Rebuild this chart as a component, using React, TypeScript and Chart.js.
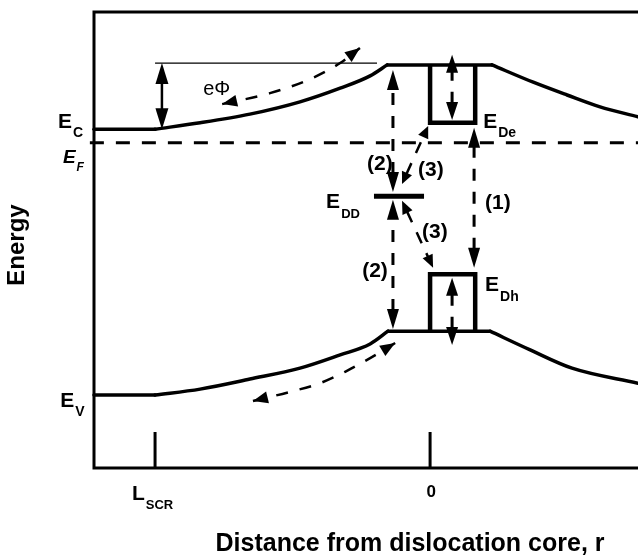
import { useEffect, useRef } from "react";
import { Chart, registerables } from "chart.js";

Chart.register(...registerables);

// Horizontal axis: distance from the dislocation core (core at 0, L_SCR at -100)
// Vertical axis: electron energy (arbitrary units)
const R_MIN = -122.2;
const R_MAX = 75.6;
const E_MIN = 0;
const E_MAX = 10;

// Conduction band edge, bent upwards around the charged core
const cbR = [-122.2, -100, -83.6, -65.5, -47.3, -32.7, -21.8, -15.6, 22.5, 37.5, 49.8, 61.8, 75.6];
const cbE = [7.43, 7.43, 7.57, 7.76, 8.03, 8.33, 8.6, 8.84, 8.84, 8.46, 8.18, 7.92, 7.7];

// Valence band edge, bent in parallel
const vbR = [-122.2, -100, -83.6, -65.5, -47.3, -32.7, -21.8, -15.3, 21.8, 36.4, 51.6, 75.6];
const vbE = [1.6, 1.6, 1.73, 1.95, 2.19, 2.48, 2.72, 3.0, 3.0, 2.59, 2.19, 1.86];

// Indices where the band edges have a kink (edge of the space-charge region, edges of the flat core region)
const cbKinks = [1, 7, 8];
const vbKinks = [1, 7, 8];

// Fermi level
const fermiE = 7.13;

// Barrier height eΦ: reference level and its extent
const barrierTopE = 8.88;
const barrierR = [-100, -19.3];

// Deep defect level E_DD
const ddR = [-20.4, -2.2];
const ddE = 5.96;

// 1D dislocation bands E_De / E_Dh (well width and depths)
const bandWellR = [0, 16.4];
const deE = [8.84, 7.57];
const dhE = [3.0, 4.25];

// Carrier drift paths along the bent bands
const cbFlowR = [-75.6, -58.2, -43.6, -32.7, -25.5];
const cbFlowE = [7.98, 8.22, 8.53, 8.88, 9.21];
const vbFlowR = [-64.4, -50.9, -40.0, -30.9, -21.8, -12.7];
const vbFlowE = [1.47, 1.67, 1.86, 2.11, 2.41, 2.74];

// Transitions: [r start, E start, r end, E end]
const barrierArrow = [-97.5, 7.43, -97.5, 8.88];
const deArrow = [8.0, 7.63, 8.0, 9.06];
const dhArrow = [8.0, 2.7, 8.0, 4.17];
const transition1 = [16.0, 4.39, 16.0, 7.46];
const transition2Up = [-13.5, 6.05, -13.5, 8.73];
const transition2Down = [-13.5, 3.05, -13.5, 5.88];
const transition3Up = [-10.2, 6.23, -0.7, 7.5];
const transition3Down = [-10.2, 5.86, 1.1, 4.39];

// Axis ticks
const tickR = [-100, 0];
const tickTopE = 0.79;
const tickLabels = ["L", "0"];

const FONT = "'Liberation Sans', Arial, Helvetica, sans-serif";

type Label = {
  text: string;
  sub?: string;
  r: number;
  e: number;
  size: number;
  subSize?: number;
  italic?: boolean;
  bold?: boolean;
  align?: CanvasTextAlign;
};

const labels: Label[] = [
  { text: "E", sub: "C", r: -135.3, e: 7.46, size: 21, subSize: 14, bold: true },
  { text: "E", sub: "F", r: -133.5, e: 6.69, size: 19, subSize: 12, bold: true, italic: true },
  { text: "E", sub: "V", r: -134.5, e: 1.34, size: 21, subSize: 14, bold: true },
  { text: "E", sub: "DD", r: -37.8, e: 5.7, size: 21, subSize: 13, bold: true },
  { text: "E", sub: "De", r: 19.3, e: 7.46, size: 21, subSize: 14, bold: true },
  { text: "E", sub: "Dh", r: 20.0, e: 3.88, size: 21, subSize: 14, bold: true },
  { text: tickLabels[0], sub: "SCR", r: -108.4, e: -0.7, size: 21, subSize: 13, bold: true },
  { text: tickLabels[1], r: 0.4, e: -0.64, size: 17, bold: true, align: "center" },
  { text: "(2)", r: -22.9, e: 6.54, size: 21, bold: true },
  { text: "(3)", r: -4.4, e: 6.4, size: 21, bold: true },
  { text: "(1)", r: 20.0, e: 5.68, size: 21, bold: true },
  { text: "(3)", r: -2.9, e: 5.04, size: 21, bold: true },
  { text: "(2)", r: -24.7, e: 4.19, size: 21, bold: true },
  { text: "eΦ", r: -82.5, e: 8.18, size: 20 },
  { text: "Distance from dislocation core, r", r: -7.3, e: -1.82, size: 25, bold: true, align: "center" },
];

const pts = (rs: number[], es: number[]) => rs.map((r, i) => ({ x: r, y: es[i] }));

// split a band edge into smooth pieces between its kinks
const pieces = (rs: number[], es: number[], kinks: number[]) => {
  const cuts = [0, ...kinks, rs.length - 1];
  const out: { x: number; y: number }[][] = [];
  for (let i = 0; i < cuts.length - 1; i++) {
    out.push(pts(rs.slice(cuts[i], cuts[i + 1] + 1), es.slice(cuts[i], cuts[i + 1] + 1)));
  }
  return out;
};

const base = {
  borderColor: "#000",
  pointRadius: 0,
  fill: false,
  clip: false as const,
  tension: 0,
};

function head(
  ctx: CanvasRenderingContext2D,
  tx: number,
  ty: number,
  fx: number,
  fy: number,
  len: number,
  half: number
) {
  const dx = tx - fx;
  const dy = ty - fy;
  const d = Math.hypot(dx, dy) || 1;
  const ux = dx / d;
  const uy = dy / d;
  const bx = tx - ux * len;
  const by = ty - uy * len;
  ctx.beginPath();
  ctx.moveTo(tx, ty);
  ctx.lineTo(bx - uy * half, by + ux * half);
  ctx.lineTo(bx + uy * half, by - ux * half);
  ctx.closePath();
  ctx.fill();
}

const schematic = {
  id: "schematic",
  afterDatasetsDraw(chart: Chart) {
    const ctx = chart.ctx;
    const xs = chart.scales.x;
    const ys = chart.scales.y;
    const X = (r: number) => xs.getPixelForValue(r);
    const Y = (e: number) => ys.getPixelForValue(e);
    const { left, top, right, bottom } = chart.chartArea;

    ctx.save();
    ctx.strokeStyle = "#000";
    ctx.fillStyle = "#000";

    // frame
    ctx.lineWidth = 3;
    ctx.setLineDash([]);
    ctx.beginPath();
    ctx.moveTo(right + 2, top);
    ctx.lineTo(left, top);
    ctx.lineTo(left, bottom);
    ctx.lineTo(right + 2, bottom);
    ctx.stroke();

    // inner ticks
    tickR.forEach((r) => {
      ctx.beginPath();
      ctx.moveTo(X(r), bottom);
      ctx.lineTo(X(r), Y(tickTopE));
      ctx.stroke();
    });

    // double-headed arrows
    const arrow = (a: number[], dashed: boolean, len: number, half: number, lw: number) => {
      const x0 = X(a[0]);
      const y0 = Y(a[1]);
      const x1 = X(a[2]);
      const y1 = Y(a[3]);
      const d = Math.hypot(x1 - x0, y1 - y0) || 1;
      const ux = (x1 - x0) / d;
      const uy = (y1 - y0) / d;
      ctx.lineWidth = lw;
      ctx.setLineDash(dashed ? [12, 11] : []);
      ctx.beginPath();
      ctx.moveTo(x0 + ux * len * 0.9, y0 + uy * len * 0.9);
      ctx.lineTo(x1 - ux * len * 0.9, y1 - uy * len * 0.9);
      ctx.stroke();
      ctx.setLineDash([]);
      head(ctx, x0, y0, x1, y1, len, half);
      head(ctx, x1, y1, x0, y0, len, half);
    };
    arrow(barrierArrow, false, 21, 6.5, 2.5);
    arrow(deArrow, true, 18, 6, 3);
    arrow(dhArrow, true, 18, 6, 3);
    arrow(transition1, true, 20, 6, 3);
    arrow(transition2Up, true, 20, 6, 3);
    arrow(transition2Down, true, 20, 6, 3);
    arrow(transition3Up, true, 12, 5.5, 2.5);
    arrow(transition3Down, true, 13, 5.5, 2.5);

    // heads of the drift paths
    const flowHeads = (rs: number[], es: number[]) => {
      const n = rs.length;
      head(ctx, X(rs[0]), Y(es[0]), X(rs[1]), Y(es[1]), 15, 6);
      head(ctx, X(rs[n - 1]), Y(es[n - 1]), X(rs[n - 2]), Y(es[n - 2]), 15, 6);
    };
    flowHeads(cbFlowR, cbFlowE);
    flowHeads(vbFlowR, vbFlowE);

    // labels
    ctx.textBaseline = "alphabetic";
    labels.forEach((l) => {
      const style = `${l.italic ? "italic " : ""}${l.bold ? "bold " : ""}`;
      ctx.font = `${style}${l.size}px ${FONT}`;
      ctx.textAlign = l.align || "left";
      const x = X(l.r);
      const y = Y(l.e);
      ctx.fillText(l.text, x, y);
      if (l.sub) {
        const w = ctx.measureText(l.text).width;
        ctx.font = `${style}${l.subSize}px ${FONT}`;
        ctx.textAlign = "left";
        ctx.fillText(l.sub, x + w + 1, y + l.size * 0.45);
      }
    });

    // vertical axis title
    ctx.save();
    ctx.font = `bold 24px ${FONT}`;
    ctx.textAlign = "center";
    ctx.translate(X(-147.6), Y(4.89));
    ctx.rotate(-Math.PI / 2);
    ctx.fillText("Energy", 0, 0);
    ctx.restore();

    ctx.restore();
  },
};

export default function App() {
  const ref = useRef<HTMLCanvasElement>(null);

  useEffect(() => {
    const canvas = ref.current;
    if (!canvas) return;
    const bandPieces = [...pieces(cbR, cbE, cbKinks), ...pieces(vbR, vbE, vbKinks)];
    const chart = new Chart(canvas, {
      type: "line",
      data: {
        datasets: [
          ...bandPieces.map((data) => ({
            ...base,
            data,
            borderWidth: 3.5,
            borderCapStyle: "round" as const,
            cubicInterpolationMode: "monotone" as const,
          })),
          {
            ...base,
            data: [
              { x: R_MIN - 1.5, y: fermiE },
              { x: R_MAX + 1, y: fermiE },
            ],
            borderWidth: 3,
            borderDash: [14, 12],
          },
          {
            ...base,
            data: barrierR.map((r) => ({ x: r, y: barrierTopE })),
            borderWidth: 1.3,
          },
          { ...base, data: ddR.map((r) => ({ x: r, y: ddE })), borderWidth: 5 },
          {
            ...base,
            data: [
              { x: bandWellR[0], y: deE[0] },
              { x: bandWellR[0], y: deE[1] },
              { x: bandWellR[1], y: deE[1] },
              { x: bandWellR[1], y: deE[0] },
            ],
            borderWidth: 4.5,
            borderJoinStyle: "miter" as const,
          },
          {
            ...base,
            data: [
              { x: bandWellR[0], y: dhE[0] },
              { x: bandWellR[0], y: dhE[1] },
              { x: bandWellR[1], y: dhE[1] },
              { x: bandWellR[1], y: dhE[0] },
            ],
            borderWidth: 4.5,
            borderJoinStyle: "miter" as const,
          },
          {
            ...base,
            data: pts(cbFlowR, cbFlowE),
            borderWidth: 2.5,
            borderDash: [12, 12],
            cubicInterpolationMode: "monotone" as const,
          },
          {
            ...base,
            data: pts(vbFlowR, vbFlowE),
            borderWidth: 2.5,
            borderDash: [12, 12],
            cubicInterpolationMode: "monotone" as const,
          },
        ],
      },
      options: {
        animation: false,
        responsive: true,
        maintainAspectRatio: false,
        events: [],
        layout: { padding: { left: 94, top: 12, right: 0, bottom: 87 } },
        plugins: { legend: { display: false }, tooltip: { enabled: false } },
        scales: {
          x: { type: "linear", min: R_MIN, max: R_MAX, display: false },
          y: { type: "linear", min: E_MIN, max: E_MAX, display: false },
        },
      },
      plugins: [schematic],
    });
    return () => chart.destroy();
  }, []);

  return (
    <div
      style={{
        position: "absolute",
        left: 0,
        top: 0,
        width: 638,
        height: 555,
        background: "#fff",
      }}
    >
      <canvas ref={ref} />
    </div>
  );
}
